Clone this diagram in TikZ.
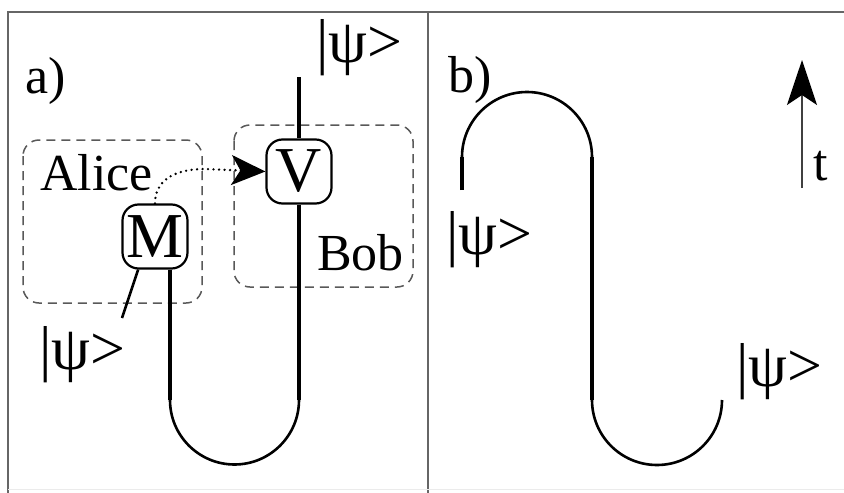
\documentclass[tikz,border=0pt]{standalone}
\usepackage{fontspec}
\setmainfont{Liberation Serif}
\usetikzlibrary{arrows.meta}
\begin{document}
\begin{tikzpicture}[x=1pt,y=-1pt,
  frame/.style={draw=black!60, line width=1.2pt},
  party/.style={draw=black!65, dash pattern=on 9pt off 6pt, line width=1.5pt, rounded corners=16pt},
  gate/.style={draw, line width=2.2pt, rounded corners=16pt, minimum width=65pt, minimum height=64pt, inner sep=0pt, font=\fontsize{64}{64}\selectfont},
  wire/.style={line width=3.4pt},
  bendwire/.style={line width=2.6pt},
  lbl/.style={inner sep=0pt, font=\fontsize{52}{60}\selectfont},
  ket/.style={inner sep=0pt, anchor=west, font=\fontsize{62}{64}\selectfont},
  signal/.style={line width=2.6pt, dash pattern=on 0pt off 5.5pt, line cap=round},
]
\useasboundingbox (0,0) rectangle (844,493);
% frame
\draw[frame] (844,12) -- (8,12) -- (8,493);
\draw[frame] (428,12) -- (428,493);
\draw[black!8, line width=1pt] (8,489) -- (844,489);

% ---- panel a ----
\node[lbl, anchor=base west] (la) at (25,93) {a)};
\draw[party] (23,140) rectangle (202,303);
\draw[party] (234,125) rectangle (413,287);
\node[lbl, anchor=base west] (alice) at (40,190) {Alice};
\node[lbl, anchor=base west] (bob) at (317,270) {Bob};

\node[gate] (V) at (299,171.5) {V};
\node[gate] (M) at (155,236.5) {M};

\node[ket] (ka1) at (316,48) {|ψ>};
\node[ket] (ka2) at (39,355) {|ψ>};

\coordinate (vtop) at (299,77);
\coordinate (aL) at (170,400);
\coordinate (aR) at (299,400);
\coordinate (k1) at (122,318);

\draw[wire] (vtop) -- (V.north);
\draw[wire] (V.south) -- (aR);
\draw[wire] (M.south -| aL) -- (aL);
\draw[bendwire] (aR) .. controls (299,435.6) and (270.1,464.5) .. (234.5,464.5)
   .. controls (198.9,464.5) and (170,435.6) .. (aL);
\draw[bendwire] (M.243) -- (k1);

\draw[signal, -{Stealth[length=34pt,width=30pt,inset=9pt,line cap=butt]}]
  (M.north) .. controls (155,182) and (172,169) .. (205,169) -- (V.west);

% ---- panel b ----
\node[lbl, anchor=base west] (lb) at (448,92) {b)};
\coordinate (b1) at (462,190);
\coordinate (b2) at (462,157);
\coordinate (b3) at (592,157);
\coordinate (b4) at (592,400);
\coordinate (b5) at (722,400);
\draw[wire] (b1) -- (b2);
\draw[bendwire] (b2) .. controls (462,121.1) and (491.1,92) .. (527,92)
   .. controls (562.9,92) and (592,121.1) .. (b3);
\draw[wire] (b3) -- (b4);
\draw[bendwire] (b4) .. controls (592,435.9) and (621.1,465) .. (657,465)
   .. controls (692.9,465) and (722,435.9) .. (b5);

\node[ket] (kb1) at (446,240) {|ψ>};
\node[ket] (kb2) at (736,372) {|ψ>};

\coordinate (t0) at (802,188);
\coordinate (t1) at (802,60);
\draw[line width=1.6pt, draw=black!75, -{Stealth[length=45pt,width=30pt,inset=10pt,color=black]}] (t0) -- (t1);
\node[lbl, anchor=base west] (tl) at (813,180) {t};
\end{tikzpicture}
\end{document}
